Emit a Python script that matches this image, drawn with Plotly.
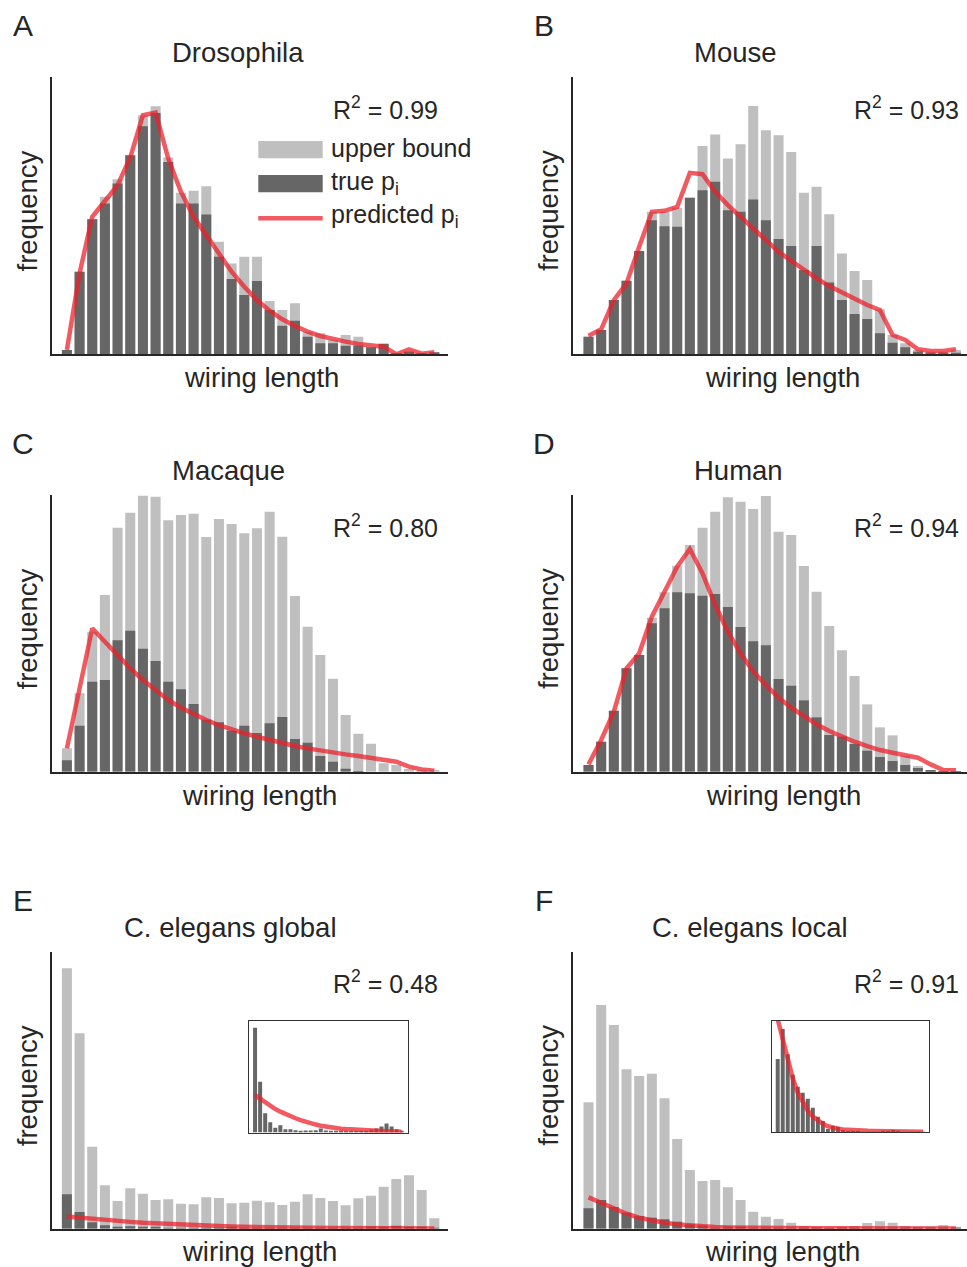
import plotly.graph_objects as go

W, H = 967, 1267

# ---------------- data (arbitrary frequency units, 30 wiring-length bins) -------------
bins = list(range(30))

dros_upper = [13, 248, 406, 473, 526, 598, 718, 745, 591, 485, 491, 505, 338, 273, 293,
              293, 160, 133, 153, 68, 63, 43, 58, 53, 21, 33, 1, 8, 3, 6]
dros_true = [13, 248, 406, 453, 513, 598, 685, 725, 578, 453, 453, 420, 293, 226, 178,
             220, 133, 86, 101, 53, 33, 33, 26, 26, 21, 31, 1, 8, 3, 6]
dros_pred = [13, 243, 413, 458, 508, 591, 718, 726, 588, 488, 413, 358, 303, 248, 203,
             163, 131, 105, 85, 68, 55, 45, 38, 31, 27, 23, 0, 15, 2, 6]

mouse_upper = [53, 73, 163, 221, 310, 428, 428, 440, 470, 626, 660, 588, 631, 746, 673,
               658, 608, 485, 503, 421, 303, 250, 223, 135, 58, 33, 13, 8, 8, 13]
mouse_true = [53, 73, 163, 221, 310, 403, 385, 383, 470, 493, 518, 433, 428, 465, 403,
              346, 325, 253, 325, 216, 163, 121, 106, 63, 35, 21, 8, 5, 5, 5]
mouse_pred = [56, 75, 163, 213, 323, 428, 431, 443, 545, 541, 488, 448, 413, 378, 343,
              308, 281, 253, 228, 205, 185, 165, 148, 133, 58, 43, 15, 10, 10, 15]

mac_upper = [70, 235, 420, 530, 732, 777, 828, 825, 754, 770, 774, 704, 758, 743, 715,
             730, 780, 705, 527, 435, 350, 279, 170, 114, 84, 25, 20, 8, 4, 3]
mac_true = [34, 138, 270, 275, 394, 423, 369, 332, 270, 247, 203, 156, 148, 123, 138,
            116, 145, 164, 98, 87, 47, 30, 9, 2, 0, 0, 0, 0, 0, 0]
mac_pred = [70, 250, 430, 390, 350, 310, 275, 245, 215, 192, 172, 155, 140, 127, 115,
            105, 95, 85, 77, 70, 63, 57, 52, 47, 42, 37, 30, 15, 7, 3]

hum_upper = [20, 90, 183, 310, 350, 462, 538, 618, 680, 732, 780, 823, 810, 788, 827,
             720, 710, 617, 540, 437, 364, 287, 202, 133, 109, 48, 17, 3, 2, 2]
hum_true = [20, 90, 183, 310, 350, 445, 490, 538, 535, 528, 533, 494, 434, 391, 379,
            278, 258, 214, 163, 110, 105, 83, 63, 44, 32, 20, 11, 4, 2, 2]
hum_pred = [22, 95, 180, 310, 355, 465, 540, 615, 668, 595, 500, 420, 355, 300, 260,
            222, 192, 165, 142, 122, 105, 90, 77, 65, 57, 48, 42, 22, 5, 4]

ceg_upper = [781, 586, 246, 130, 83, 121, 105, 86, 88, 75, 73, 94, 92, 76, 78,
             84, 79, 71, 81, 103, 92, 83, 70, 91, 99, 126, 149, 160, 116, 31]
ceg_true = [103, 50, 19, 10, 4.6, 7.2, 3.3, 3.3, 2.3, 1.3, 2, 2, 2.3, 4, 2,
            1.3, 1.3, 1.3, 1.3, 1.6, 1.3, 1, 1.6, 2.6, 4, 6, 8.9, 6, 3.3, 1]
ceg_pred = [36.7, 33, 29.5, 26, 23, 20.5, 18, 16, 14, 12.2, 10.5, 9, 7.8, 6.7, 5.8,
            4.9, 4.3, 3.8, 3.4, 3, 2.7, 2.4, 2.1, 1.9, 1.6, 1.4, 1.2, 1, 0.8, 0.7]

cel_upper = [379, 671, 611, 478, 458, 465, 391, 269, 176, 143, 146, 124, 86, 51, 36,
             29, 18, 8, 4, 2, 6, 8, 17, 22, 18, 8, 4, 6, 11, 4]
cel_true = [61, 86, 65, 48, 38, 33, 28, 20.5, 13, 9.4, 2.8, 5.3, 4.7, 2, 1.1,
            0.8, 0.6, 0.5, 0.4, 0.4, 0.5, 0.6, 1.0, 1.9, 0.8, 0.5, 0.4, 0.4, 0.5, 0.3]
cel_pred = [94, 77, 59, 45, 33, 25, 18, 13, 9.5, 7, 5, 3.8, 3, 2.4, 2,
            1.7, 1.5, 1.3, 1.2, 1.1, 1, 0.9, 0.8, 0.7, 0.6, 0.6, 0.5, 0.5, 0.4, 0.4]

titles = ["Drosophila", "Mouse", "Macaque", "Human", "C. elegans global", "C. elegans local"]
letters = ["A", "B", "C", "D", "E", "F"]
r2_labels = ["0.99", "0.93", "0.80", "0.94", "0.48", "0.91"]

# ---------------- styling / layout constants -------------
LIGHT = "#bfbfbf"
DARK = "#666666"
RED = "rgba(235,32,40,0.74)"
TXT = "#262626"
FONT = "Liberation Sans, Arial, Helvetica, sans-serif"
PITCH = 12.67          # px per bin
X0 = -1.2              # left range offset in bins
BARW = 0.79
FS = 27.5              # titles / axis labels
FS_R2 = 25
FS_LEG = 25
FS_LET = 30

panels = [
    dict(data=(dros_upper, dros_true, dros_pred), box=(51.7, 448, 77, 354.3), ymax=833, tx=238, wx=261),
    dict(data=(mouse_upper, mouse_true, mouse_pred), box=(573.3, 967, 77, 354.3), ymax=833, tx=735, wx=782),
    dict(data=(mac_upper, mac_true, mac_pred), box=(51.7, 448, 495, 771.7), ymax=830, tx=228, wx=259),
    dict(data=(hum_upper, hum_true, hum_pred), box=(573.3, 967, 495, 771.7), ymax=830, tx=738, wx=783),
    dict(data=(ceg_upper, ceg_true, ceg_pred), box=(51.7, 448, 951.7, 1228.7), ymax=831, tx=230, wx=259),
    dict(data=(cel_upper, cel_true, cel_pred), box=(573.3, 967, 951.7, 1228.7), ymax=831, tx=750, wx=782),
]
insets = [
    dict(data=(ceg_true, ceg_pred), box=(249, 407.5, 1020.7, 1132.5), ymax=110),
    dict(data=(cel_true, cel_pred), box=(771.7, 929, 1020.7, 1132.3), ymax=93),
]


def px(xp):
    return xp / W


def py(yp):
    return 1 - yp / H


fig = go.Figure()
layout = dict(width=W, height=H, margin=dict(l=0, r=0, t=0, b=0),
              paper_bgcolor="white", plot_bgcolor="rgba(0,0,0,0)",
              barmode="overlay", showlegend=False,
              font=dict(family=FONT, color=TXT, size=25))
annotations = []
shapes = []


def axis_names(k):
    s = "" if k == 1 else str(k)
    return "x" + s, "y" + s, "xaxis" + s, "yaxis" + s


k = 0
for i, p in enumerate(panels):
    k += 1
    xr, yr, xn, yn = axis_names(k)
    upper, true, pred = p["data"]
    l, r, t, b = p["box"]
    fig.add_trace(go.Bar(x=bins, y=upper, width=BARW, marker=dict(color=LIGHT, line=dict(width=0)),
                         xaxis=xr, yaxis=yr, name="upper bound"))
    fig.add_trace(go.Bar(x=bins, y=true, width=BARW, marker=dict(color=DARK, line=dict(width=0)),
                         xaxis=xr, yaxis=yr, name="true p_i"))
    fig.add_trace(go.Scatter(x=bins, y=pred, mode="lines", line=dict(color=RED, width=4.5),
                             xaxis=xr, yaxis=yr, name="predicted p_i"))
    layout[xn] = dict(domain=[px(l), px(r)], range=[X0, X0 + (r - l) / PITCH], anchor=yr,
                      showline=True, linecolor=TXT, linewidth=1.8, showticklabels=False,
                      ticks="", showgrid=False, zeroline=False)
    layout[yn] = dict(domain=[py(b), py(t)], range=[0, p["ymax"]], anchor=xr,
                      showline=True, linecolor=TXT, linewidth=1.8, showticklabels=False,
                      ticks="", showgrid=False, zeroline=False)
    dy = t - 77
    dx = l - 51.7
    annotations += [
        dict(text=titles[i], x=px(p["tx"]), y=py(52.5 + dy), xref="paper", yref="paper",
             xanchor="center", yanchor="middle", showarrow=False, font=dict(size=FS)),
        dict(text=letters[i], x=px(22.7 + dx), y=py(25.5 + dy), xref="paper", yref="paper",
             xanchor="center", yanchor="middle", showarrow=False, font=dict(size=FS_LET)),
        dict(text="frequency", x=px(27.5 + dx), y=py(211 + dy), xref="paper", yref="paper",
             xanchor="center", yanchor="middle", showarrow=False, textangle=-90, font=dict(size=FS)),
        dict(text="wiring length", x=px(p["wx"]), y=py(377 + dy), xref="paper", yref="paper",
             xanchor="center", yanchor="middle", showarrow=False, font=dict(size=FS)),
        dict(text="R<sup>2</sup> = " + r2_labels[i], x=px(330.5 + dx), y=py(107.5 + dy),
             xref="paper", yref="paper", xanchor="left", yanchor="middle", showarrow=False,
             font=dict(size=FS_R2)),
    ]

for p in insets:
    k += 1
    xr, yr, xn, yn = axis_names(k)
    true, pred = p["data"]
    l, r, t, b = p["box"]
    fig.add_trace(go.Bar(x=bins, y=true, width=BARW, marker=dict(color=DARK, line=dict(width=0)),
                         xaxis=xr, yaxis=yr))
    fig.add_trace(go.Scatter(x=bins, y=pred, mode="lines", line=dict(color=RED, width=4.5),
                             xaxis=xr, yaxis=yr))
    layout[xn] = dict(domain=[px(l), px(r)], range=[X0, 30.15], anchor=yr,
                      showline=True, mirror=True, linecolor="#333333", linewidth=1.3,
                      showticklabels=False, ticks="", showgrid=False, zeroline=False)
    layout[yn] = dict(domain=[py(b), py(t)], range=[0, p["ymax"]], anchor=xr,
                      showline=True, mirror=True, linecolor="#333333", linewidth=1.3,
                      showticklabels=False, ticks="", showgrid=False, zeroline=False)

# legend in panel A (drawn manually)
shapes += [
    dict(type="rect", xref="paper", yref="paper", x0=px(258.3), x1=px(322.7), y0=py(158.3), y1=py(141),
         fillcolor=LIGHT, line=dict(width=0)),
    dict(type="rect", xref="paper", yref="paper", x0=px(258.3), x1=px(322.7), y0=py(192.3), y1=py(175),
         fillcolor=DARK, line=dict(width=0)),
    dict(type="line", xref="paper", yref="paper", x0=px(258.3), x1=px(322.7), y0=py(218.3), y1=py(218.3),
         line=dict(color=RED, width=4.5)),
]
for txt, yc in [("upper bound", 148), ("true p<sub>i</sub>", 182.5), ("predicted p<sub>i</sub>", 216.5)]:
    annotations.append(dict(text=txt, x=px(328.5), y=py(yc), xref="paper", yref="paper",
                            xanchor="left", yanchor="middle", showarrow=False, font=dict(size=FS_LEG)))

layout["annotations"] = annotations
layout["shapes"] = shapes
fig.update_layout(**layout)
fig.write_html("out.html")
